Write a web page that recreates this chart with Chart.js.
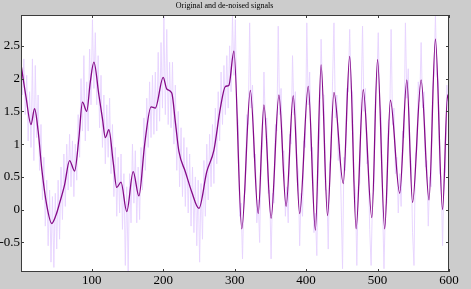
<!DOCTYPE html>
<html>
<head>
<meta charset="utf-8">
<script src="https://cdn.jsdelivr.net/npm/chart.js@4.4.1/dist/chart.umd.min.js"></script>
<style>
  html, body { margin: 0; padding: 0; background: #cccccc; }
  #wrap { width: 471px; height: 289px; }
</style>
</head>
<body>
<div id="wrap"><canvas id="sigChart"></canvas></div>
<script>
// tick labels
var xTicks = [100, 200, 300, 400, 500, 600];
var yTicks = [-0.5, 0, 0.5, 1, 1.5, 2, 2.5];

// de-noised signal, read at its turning points
var smoothX = [1, 8, 15, 20, 25, 30, 37, 44, 50, 55, 62, 69, 76, 82, 87, 93, 98, 103, 110, 115, 119, 124, 130, 135, 141, 149, 158, 166, 174, 183, 189, 200, 205, 212, 217, 222, 231, 240, 250, 261, 271, 280, 287, 292, 299, 310, 322, 333, 341, 351, 362, 372, 382, 391, 403, 413, 421, 430, 439, 452, 461, 470, 480, 492, 500, 510, 518, 531, 541, 549, 561, 572, 581, 591, 598, 600];
var smoothY = [2.22, 1.72, 1.30, 1.54, 1.20, 0.63, 0.07, -0.21, -0.08, 0.10, 0.38, 0.75, 0.59, 1.09, 1.64, 1.50, 1.95, 2.25, 1.75, 1.39, 1.10, 1.22, 0.73, 0.34, 0.42, -0.03, 0.58, 0.21, 0.99, 1.57, 1.55, 2.02, 1.84, 1.78, 1.34, 0.89, 0.58, 0.27, 0.02, 0.58, 0.91, 1.55, 1.88, 1.90, 2.42, -0.29, 1.82, -0.06, 1.60, -0.13, 1.75, 0.05, 1.74, -0.06, 1.88, -0.31, 2.21, -0.09, 1.79, 0.40, 2.34, -0.29, 1.83, -0.12, 2.29, -0.29, 1.67, 0.25, 1.98, 0.11, 1.98, 0.15, 2.60, 0.00, 1.75, 1.60];

// original (noisy) signal, every second sample from 1
var noisyStart = 1, noisyStep = 2;
var noisy = [
  2.10, 1.75, 2.30, 1.45, 2.05, 1.05, 1.80, 0.95, 2.30, 0.75,
  2.20, 1.10, 1.75, 0.60, 1.30, 0.15, 0.80, -0.25, 0.45, -0.55,
  0.30, -0.80, 0.20, -0.88, 0.25, -0.60, 0.45, -0.45, 0.65, -0.15,
  0.85, 0.05, 1.00, 0.30, 1.15, 0.35, 1.05, 0.20, 1.00, 0.45,
  1.45, 0.80, 2.00, 1.20, 2.35, 1.05, 1.95, 1.20, 2.45, 1.60,
  2.90, 1.85, 2.70, 1.60, 2.35, 1.25, 2.05, 0.95, 1.75, 0.70,
  1.60, 0.80, 1.70, 0.55, 1.30, 0.20, 0.95, -0.10, 0.80, -0.05,
  0.85, -0.30, 0.55, -0.85, 0.35, -0.95, 0.55, -0.20, 1.00, 0.10,
  0.90, -0.20, 0.65, -0.15, 0.95, 0.30, 1.40, 0.60, 1.70, 0.95,
  1.95, 1.10, 2.05, 1.15, 2.10, 1.20, 2.40, 1.35, 2.55, 1.55,
  2.95, 1.45, 2.75, 1.30, 2.25, 1.25, 2.25, 1.00, 1.90, 0.60,
  1.50, 0.35, 1.25, 0.20, 1.10, 0.05, 0.95, -0.05, 0.85, -0.25,
  0.65, -0.35, 0.50, -0.55, 0.45, -0.80, 0.40, -0.45, 0.75, -0.10,
  1.00, 0.15, 1.15, 0.35, 1.30, 0.40, 1.55, 0.70, 1.80, 1.05,
  2.10, 1.30, 2.20, 1.45, 2.35, 1.55, 2.50, 1.80, 2.95, 2.05,
  2.90, 1.50, 1.35, -0.10, 0.10, -0.75, 0.20, 0.30, 1.45, 1.30,
  2.85, 1.55, 1.90, 0.80, 0.85, -0.20, 0.15, -0.50, 0.80, 0.95,
  2.10, 1.30, 1.40, 0.25, 0.30, -0.75, 0.25, 0.10, 1.30, 1.20,
  2.80, 1.45, 1.85, 0.85, 0.90, -0.10, 0.35, -0.20, 1.15, 1.00,
  2.35, 1.45, 1.80, 0.70, 0.60, -0.55, 0.25, -0.10, 1.05, 0.95,
  2.85, 1.60, 2.10, 0.90, 0.95, -0.35, -0.05, -0.70, 0.75, 1.15,
  2.60, 1.75, 1.75, 0.30, 0.30, -0.60, 0.70, 0.80, 1.95, 2.85,
  1.40, 1.75, 0.75, 1.00, 0.15, -0.90, 0.80, 0.60, 1.85, 1.80,
  2.75, 1.85, 1.80, 0.45, 0.30, -0.85, 0.35, 0.40, 1.65, 2.80,
  1.50, 1.85, 0.70, 0.75, -0.30, -0.85, 0.20, 0.30, 1.75, 1.95,
  2.70, 1.60, 1.50, 0.10, -0.90, 0.05, 0.10, 1.35, 1.40, 2.75,
  1.30, 1.55, 0.55, 0.80, -0.05, 0.55, 0.05, 1.20, 1.10, 2.85,
  1.70, 2.15, 0.90, 0.75, -0.35, -0.85, 0.85, 0.90, 1.95, 1.65,
  2.55, 1.55, 1.80, 0.65, 0.75, -0.25, 0.50, 0.35, 1.85, 2.05,
  2.95, 2.05, 1.95, 0.55, 0.50, -0.55, 0.45, 0.55, 1.90, 1.50
];

var noisyPts = noisy.map(function (v, i) { return { x: noisyStart + i * noisyStep, y: v }; });
var smoothPts = smoothX.map(function (x, i) { return { x: x, y: smoothY[i] }; });

var serif = "'Liberation Serif', 'DejaVu Serif', serif";

// white plot area, box round it, inward ticks on all four sides
var axesBox = {
  id: "axesBox",
  beforeDatasetsDraw: function (chart) {
    var a = chart.chartArea, c = chart.ctx;
    c.save();
    c.fillStyle = "#ffffff";
    c.fillRect(a.left, a.top, a.right - a.left, a.bottom - a.top);
    c.restore();
  },
  afterDraw: function (chart) {
    var a = chart.chartArea, c = chart.ctx;
    var xs = chart.scales.x, ys = chart.scales.y;
    var len = 3;
    c.save();
    c.strokeStyle = "#3c3c3c";
    c.lineWidth = 1;
    c.strokeRect(Math.round(a.left) + 0.5, Math.round(a.top) + 0.5,
      Math.round(a.right - a.left) - 1, Math.round(a.bottom - a.top) - 1);
    c.beginPath();
    xTicks.forEach(function (t) {
      var p = Math.round(xs.getPixelForValue(t)) + 0.5;
      c.moveTo(p, a.bottom); c.lineTo(p, a.bottom - len);
      c.moveTo(p, a.top); c.lineTo(p, a.top + len);
    });
    yTicks.forEach(function (t) {
      var p = Math.round(ys.getPixelForValue(t)) + 0.5;
      c.moveTo(a.left, p); c.lineTo(a.left + len, p);
      c.moveTo(a.right, p); c.lineTo(a.right - len, p);
    });
    c.stroke();
    c.restore();
  }
};

var ctx = document.getElementById("sigChart").getContext("2d");
var sigChart = new Chart(ctx, {
  type: "line",
  data: {
    datasets: [
      {
        label: "De-noised",
        data: smoothPts,
        borderColor: "#850a88",
        borderWidth: 1.3,
        pointRadius: 0,
        cubicInterpolationMode: "monotone",
        fill: false
      },
      {
        label: "Original",
        data: noisyPts,
        borderColor: "#e6d2ff",
        borderWidth: 0.9,
        pointRadius: 0,
        tension: 0,
        fill: false
      }
    ]
  },
  options: {
    responsive: true,
    maintainAspectRatio: false,
    animation: false,
    layout: { padding: { left: 0, right: 22, top: 0, bottom: 0 } },
    plugins: {
      legend: { display: false },
      tooltip: { enabled: false },
      title: {
        display: true,
        text: "Original and de-noised signals",
        color: "#000000",
        font: { family: serif, size: 8, weight: "normal" },
        padding: { top: 1, bottom: 4.4 }
      }
    },
    scales: {
      x: {
        type: "linear",
        min: 1,
        max: 600,
        grid: { display: false, drawTicks: false },
        border: { display: false },
        afterBuildTicks: function (s) { s.ticks = xTicks.map(function (v) { return { value: v }; }); },
        afterFit: function (s) { s.height = 17; },
        ticks: {
          color: "#000000",
          font: { family: serif, size: 13 },
          padding: 1,
          maxRotation: 0,
          callback: function (v) { return String(v); }
        }
      },
      y: {
        type: "linear",
        min: -0.95,
        max: 2.97,
        grid: { display: false, drawTicks: false },
        border: { display: false },
        afterBuildTicks: function (s) { s.ticks = yTicks.map(function (v) { return { value: v }; }); },
        afterFit: function (s) { s.width = 21; },
        ticks: {
          color: "#000000",
          font: { family: serif, size: 13 },
          padding: 1,
          callback: function (v) { return String(v); }
        }
      }
    }
  },
  plugins: [axesBox]
});
</script>
</body>
</html>
